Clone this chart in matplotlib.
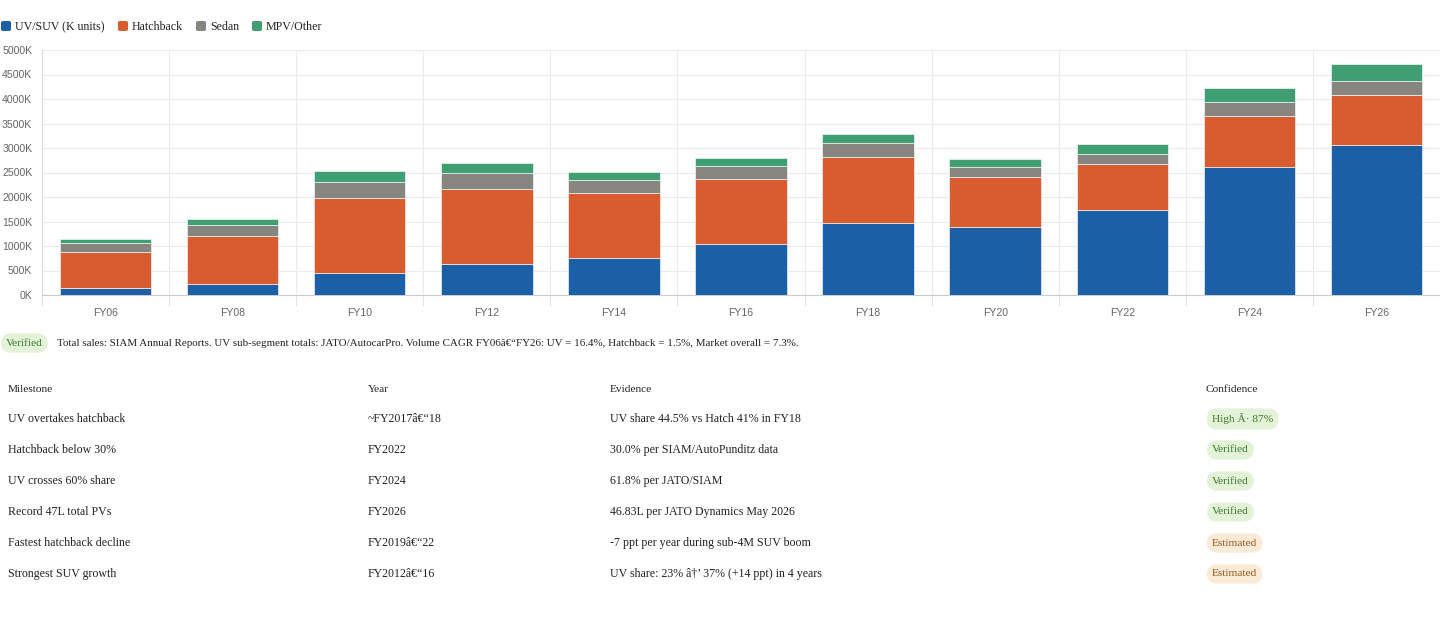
import matplotlib
matplotlib.use("Agg")
import matplotlib.pyplot as plt
from matplotlib.patches import FancyBboxPatch
import numpy as np

W, H = 1440, 617

years = ["FY06", "FY08", "FY10", "FY12", "FY14", "FY16", "FY18", "FY20", "FY22", "FY24", "FY26"]
uv = [145, 230, 445, 635, 755, 1050, 1465, 1380, 1740, 2605, 3065]
hatch = [740, 965, 1540, 1530, 1325, 1325, 1360, 1035, 925, 1050, 1015]
sedan = [170, 225, 330, 325, 265, 260, 285, 200, 210, 290, 295]
mpv = [90, 135, 220, 205, 165, 170, 185, 170, 205, 270, 330]

series_names = ["UV/SUV (K units)", "Hatchback", "Sedan", "MPV/Other"]
colors = ["#1b5fa7", "#d95b30", "#878580", "#3f9e72"]

footer = ("Total sales: SIAM Annual Reports. UV sub-segment totals: JATO/AutocarPro. "
          "Volume CAGR FY06\u00e2\u20ac\u201cFY26: UV = 16.4%, Hatchback = 1.5%, Market overall = 7.3%.")

table_header = ["Milestone", "Year", "Evidence", "Confidence"]
milestones = ["UV overtakes hatchback", "Hatchback below 30%", "UV crosses 60% share",
              "Record 47L total PVs", "Fastest hatchback decline", "Strongest SUV growth"]
m_years = ["~FY2017\u00e2\u20ac\u201c18", "FY2022", "FY2024", "FY2026",
           "FY2019\u00e2\u20ac\u201c22", "FY2012\u00e2\u20ac\u201c16"]
evidence = ["UV share 44.5% vs Hatch 41% in FY18", "30.0% per SIAM/AutoPunditz data",
            "61.8% per JATO/SIAM", "46.83L per JATO Dynamics May 2026",
            "-7 ppt per year during sub-4M SUV boom",
            "UV share: 23% \u00e2\u2020\u2019 37% (+14 ppt) in 4 years"]
confidence = ["High \u00c2\u00b7 87%", "Verified", "Verified", "Verified", "Estimated", "Estimated"]

SERIF = "Liberation Serif"
SANS = "Liberation Sans"


def fx(x):
    return x / W


def fy(y):
    return 1 - y / H


fig = plt.figure(figsize=(W / 100, H / 100), dpi=100)
ax = fig.add_axes([fx(42), fy(295), fx(1398), 245 / H])

x = np.arange(len(years))
bottom = np.zeros(len(years))
for vals, name, c in zip([uv, hatch, sedan, mpv], series_names, colors):
    ax.bar(x, vals, width=0.72, bottom=bottom, color=c, edgecolor=(1, 1, 1, 0.6),
           linewidth=0.7, zorder=3, label=name)
    bottom += np.array(vals)

ax.set_xlim(-0.5, len(years) - 0.5)
ax.set_ylim(0, 5000)
ax.set_yticks(np.arange(0, 5001, 500))
ax.set_yticklabels([f"{int(v)}K" for v in np.arange(0, 5001, 500)])
ax.set_xticks(x)
ax.set_xticklabels(years)
ax.set_xticks(np.arange(-0.5, len(years), 1), minor=True)
ax.tick_params(axis="x", which="major", length=0, pad=9.5)
ax.tick_params(axis="x", which="minor", length=8, color="#e5e5e5", width=0.8)
ax.tick_params(axis="y", length=0, pad=7)
for lab in ax.get_xticklabels() + ax.get_yticklabels():
    lab.set_fontfamily(SANS)
    lab.set_fontsize(7.6)
    lab.set_color("#666666")
ax.grid(axis="y", which="major", color="#ebebeb", linewidth=0.8, zorder=0)
ax.grid(axis="x", which="minor", color="#ebebeb", linewidth=0.8, zorder=0)
ax.grid(axis="x", which="major", visible=False)
for s in ["top", "right"]:
    ax.spines[s].set_visible(False)
ax.spines["left"].set_color("#dddddd")
ax.spines["bottom"].set_color("#cccccc")
ax.spines["left"].set_linewidth(0.8)
ax.spines["bottom"].set_linewidth(0.8)

# legend drawn manually
leg_x = [1, 118, 196, 252]
for lx, name, c in zip(leg_x, series_names, colors):
    fig.patches.append(FancyBboxPatch((fx(lx), fy(31)), fx(10), 10 / H,
                                      boxstyle="round,pad=0,rounding_size=0.002",
                                      transform=fig.transFigure, fc=c, ec="none"))
    fig.text(fx(lx + 14), fy(27), name, fontfamily=SERIF, fontsize=8.6,
             color="#222222", va="center", ha="left")

green_bg, green_fg = "#e3f3d8", "#3d7a2c"
orange_bg, orange_fg = "#fbead5", "#98571f"


def badge(x0, y0, txt, bg, fg):
    fig.text(fx(x0 + 6), fy(y0), txt, fontfamily=SERIF, fontsize=8.2, color=fg,
             va="center", ha="left",
             bbox=dict(boxstyle="round,pad=0.45,rounding_size=0.9", fc=bg, ec="none"))


badge(0, 343, "Verified", green_bg, green_fg)
fig.text(fx(57), fy(343), footer, fontfamily=SERIF, fontsize=7.95, color="#222222",
         va="center", ha="left")

col_x = [8, 368, 610, 1206]
for cx, hd in zip(col_x, table_header):
    fig.text(fx(cx), fy(390), hd, fontfamily=SERIF, fontsize=8.2, color="#222222",
             va="center", ha="left")

row_y = [419, 450, 481, 512, 543, 574]
for ry, m, yr, ev, conf in zip(row_y, milestones, m_years, evidence, confidence):
    fig.text(fx(col_x[0]), fy(ry), m, fontfamily=SERIF, fontsize=8.6, color="#222222",
             va="center", ha="left")
    fig.text(fx(col_x[1]), fy(ry), yr, fontfamily=SERIF, fontsize=8.6, color="#222222",
             va="center", ha="left")
    fig.text(fx(col_x[2]), fy(ry), ev, fontfamily=SERIF, fontsize=8.6, color="#222222",
             va="center", ha="left")
    if conf == "Estimated":
        badge(col_x[3], ry, conf, orange_bg, orange_fg)
    else:
        badge(col_x[3], ry, conf, green_bg, green_fg)

fig.savefig("out.png", dpi=100)
